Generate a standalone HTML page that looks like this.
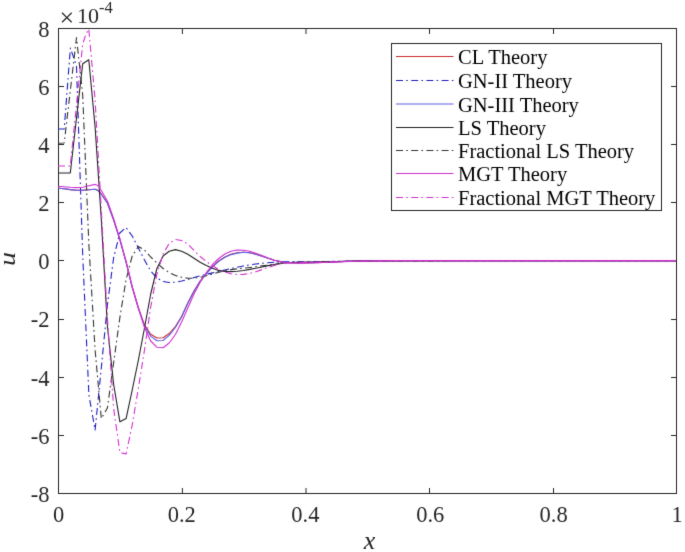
<!DOCTYPE html>
<html><head><meta charset="utf-8"><style>
html,body{margin:0;padding:0;background:#fff;}
svg{display:block;font-family:"Liberation Serif",serif;}
</style></head><body>
<svg width="685" height="552" viewBox="0 0 685 552">
<defs><filter id="bl" x="-0.02" y="-0.02" width="1.04" height="1.04" color-interpolation-filters="sRGB"><feConvolveMatrix order="3" kernelMatrix="1 8 1 8 64 8 1 8 1" divisor="100" edgeMode="duplicate" preserveAlpha="true"/></filter></defs>
<g filter="url(#bl)">
<rect x="-10" y="-10" width="705" height="572" fill="#fff"/>
<defs><clipPath id="c"><rect x="58" y="28" width="619" height="466"/></clipPath></defs>
<rect x="58.5" y="28.5" width="618" height="465" fill="none" stroke="#262626" stroke-width="1"/>
<path d="M58.5,493v-5M58.5,29v5M182.4,493v-5M182.4,29v5M306.0,493v-5M306.0,29v5M429.5,493v-5M429.5,29v5M553.5,493v-5M553.5,29v5M676.5,493v-5M676.5,29v5M59,28.5h5M676,28.5h-5M59,86.5h5M676,86.5h-5M59,144.5h5M676,144.5h-5M59,202.5h5M676,202.5h-5M59,260.5h5M676,260.5h-5M59,319.5h5M676,319.5h-5M59,377.5h5M676,377.5h-5M59,435.5h5M676,435.5h-5M59,493.5h5M676,493.5h-5" stroke="#262626" stroke-width="1" fill="none"/>
<g clip-path="url(#c)" fill="none" stroke-width="1.1" stroke-linejoin="round">
<polyline points="58.0,188.2 64.2,188.8 70.4,189.6 76.5,190.3 82.7,190.3 88.9,189.7 95.1,189.2 98.0,190.5 101.3,194.0 107.4,203.0 113.6,219.8 119.8,239.4 126.0,261.7 132.2,287.0 138.4,308.0 144.5,325.0 150.7,334.2 156.9,338.0 163.1,337.8 169.2,333.5 175.4,326.5 181.6,316.5 187.8,303.0 194.0,291.0 200.1,281.0 206.3,273.5 212.5,266.5 218.7,261.0 224.9,257.0 231.0,254.3 237.2,252.8 243.4,252.3 249.6,252.8 255.8,254.3 262.0,256.2 268.1,258.3 274.3,260.2 280.5,261.6 286.7,262.4 292.9,262.8 299.0,262.9 311.0,262.8 323.0,262.4 335.0,261.9 350.0,261.3 370.0,260.8 400.0,260.6 676.0,260.6" stroke="#cc2a2a"/>
<polyline points="58.0,129.0 64.2,129.0 70.4,48.0 76.5,66.0 82.7,255.0 88.9,395.0 95.1,430.0 101.3,368.0 107.4,305.0 113.6,258.0 119.8,233.0 126.0,227.5 132.2,236.0 138.4,248.0 144.5,260.0 150.7,271.0 156.9,278.0 163.1,281.5 169.2,282.5 175.4,282.2 181.6,281.0 187.8,279.5 194.0,277.5 200.1,275.8 206.3,274.4 212.5,272.9 218.7,271.5 224.9,270.0 231.0,268.5 237.2,267.2 243.4,266.0 249.6,264.9 255.8,264.0 262.0,263.3 268.1,262.7 274.3,262.3 280.5,262.0 286.7,261.9 292.9,261.9 299.0,261.9 311.0,261.8 330.0,261.5 350.0,261.1 370.0,260.8 676.0,260.6" stroke="#1c1cc0" stroke-dasharray="7 3.2 1.6 3.4"/>
<polyline points="58.0,188.2 64.2,188.8 70.4,189.6 76.5,190.3 82.7,190.3 88.9,189.7 95.1,189.2 98.0,190.5 101.3,194.3 107.4,203.3 113.6,220.1 119.8,239.7 126.0,262.0 132.2,287.3 138.4,308.5 144.5,326.0 150.7,336.1 156.9,340.7 163.1,340.5 169.2,335.4 175.4,327.5 181.6,317.0 187.8,303.3 194.0,291.3 200.1,281.3 206.3,273.8 212.5,266.8 218.7,261.3 224.9,257.3 231.0,254.6 237.2,253.1 243.4,252.3 249.6,252.8 255.8,254.3 262.0,256.2 268.1,258.3 274.3,260.2 280.5,261.6 286.7,262.4 292.9,262.8 299.0,262.9 311.0,262.8 323.0,262.4 335.0,261.9 350.0,261.3 370.0,260.8 400.0,260.6 676.0,260.6" stroke="#5c5ce8"/>
<polyline points="58.0,173.0 64.2,173.0 70.3,173.0 76.5,118.0 82.7,63.8 88.8,59.8 95.1,127.0 101.3,219.0 107.4,326.0 113.6,384.0 119.9,421.8 126.1,418.6 132.2,390.0 138.4,360.0 144.5,328.0 150.7,294.0 156.9,268.5 163.1,256.0 169.2,251.2 175.4,249.6 181.6,251.2 187.8,254.2 194.0,258.3 200.1,262.3 206.3,265.6 212.5,268.2 218.7,270.4 224.9,271.4 231.0,271.6 237.2,271.2 243.4,270.5 249.6,269.4 255.8,268.2 262.0,267.0 268.1,265.6 274.3,264.5 280.5,263.4 286.7,262.6 292.9,262.5 299.0,262.4 311.0,262.2 330.0,261.8 350.0,261.3 370.0,260.9 400.0,260.7 676.0,260.6" stroke="#222222"/>
<polyline points="58.0,143.3 64.2,143.0 70.4,90.0 76.5,37.6 82.7,95.0 88.9,245.0 95.1,350.0 101.3,418.5 107.4,408.0 113.6,363.0 119.8,318.0 126.0,280.0 132.2,256.0 138.4,246.5 144.5,250.0 150.7,257.0 156.9,263.0 163.1,268.5 169.2,272.5 175.4,275.5 181.6,277.3 187.8,278.2 194.0,278.2 200.1,277.4 206.3,275.8 212.5,274.0 218.7,272.3 224.9,270.8 231.0,269.6 237.2,268.8 243.4,268.2 249.6,267.5 255.8,266.7 262.0,265.9 268.1,265.1 274.3,264.3 280.5,263.5 286.7,262.8 292.9,262.4 299.0,262.2 311.0,262.0 330.0,261.6 350.0,261.2 370.0,260.9 676.0,260.6" stroke="#333333" stroke-dasharray="7 3.2 1.6 3.4"/>
<polyline points="58.0,186.4 64.2,186.8 70.4,187.3 76.5,187.6 82.7,187.3 88.9,185.8 95.1,184.4 98.0,185.5 101.3,190.5 107.4,201.0 113.6,218.5 119.8,238.5 126.0,261.0 132.2,286.5 138.4,308.0 144.5,327.5 150.7,341.0 156.9,347.2 163.1,347.8 169.2,343.0 175.4,334.5 181.6,322.0 187.8,308.0 194.0,294.0 200.1,282.5 206.3,272.5 212.5,264.5 218.7,258.5 224.9,254.0 231.0,251.2 237.2,250.0 243.4,250.2 249.6,251.3 255.8,253.3 262.0,255.6 268.1,258.0 274.3,260.2 280.5,261.8 286.7,262.7 292.9,263.1 299.0,263.1 311.0,262.9 323.0,262.5 335.0,262.0 350.0,261.4 370.0,260.9 400.0,260.6 676.0,260.6" stroke="#d030d0"/>
<polyline points="58.0,166.0 64.2,166.0 70.3,166.0 76.5,105.0 82.7,44.0 85.8,34.5 88.8,29.0 95.1,100.0 101.3,210.0 107.4,318.0 113.6,408.0 119.9,452.5 126.1,454.0 132.2,425.0 138.4,388.0 144.5,350.0 150.7,307.0 156.9,274.0 163.1,254.0 169.2,243.5 175.4,239.5 181.6,240.5 187.8,244.0 194.0,250.5 200.1,256.5 206.3,261.5 212.5,265.8 218.7,269.5 224.9,272.2 231.0,273.8 237.2,274.5 243.4,274.4 249.6,273.4 255.8,271.7 262.0,269.6 268.1,267.4 274.3,265.4 280.5,263.8 286.7,262.9 292.9,262.6 299.0,262.5 311.0,262.3 330.0,261.9 350.0,261.4 370.0,261.0 400.0,260.7 676.0,260.6" stroke="#d030d0" stroke-dasharray="7 3.2 1.6 3.4"/>
</g>
<g font-family="Liberation Serif" font-size="22.5" fill="#262626">
<text x="49.5" y="36.8" text-anchor="end">8</text>
<text x="49.5" y="94.9" text-anchor="end">6</text>
<text x="49.5" y="153.1" text-anchor="end">4</text>
<text x="49.5" y="211.2" text-anchor="end">2</text>
<text x="49.5" y="269.3" text-anchor="end">0</text>
<text x="49.5" y="327.4" text-anchor="end">-2</text>
<text x="49.5" y="385.6" text-anchor="end">-4</text>
<text x="49.5" y="443.7" text-anchor="end">-6</text>
<text x="49.5" y="501.8" text-anchor="end">-8</text>
<text x="58.5" y="522.3" text-anchor="middle">0</text>
<text x="181.8" y="522.3" text-anchor="middle">0.2</text>
<text x="305.4" y="522.3" text-anchor="middle">0.4</text>
<text x="430.2" y="522.3" text-anchor="middle">0.6</text>
<text x="553.6" y="522.3" text-anchor="middle">0.8</text>
<text x="677.0" y="522.3" text-anchor="middle">1</text>
</g>
<g font-family="Liberation Serif" fill="#262626"><text x="59.5" y="26.2" font-size="26">&#215;</text><text x="77" y="23" font-size="22">10</text><text x="99" y="13.3" font-size="16.5">-4</text></g>
<text x="369.5" y="548.5" font-family="Liberation Serif" font-style="italic" font-size="26" fill="#262626" text-anchor="middle">x</text>
<text transform="translate(15,259) rotate(-90) scale(1.12,0.92)" font-family="Liberation Serif" font-style="italic" font-size="25" fill="#262626" text-anchor="middle">u</text>
<rect x="391.5" y="43.5" width="270" height="167" fill="#fff" stroke="#262626" stroke-width="1"/>
<line x1="396" y1="56.5" x2="453.5" y2="56.5" stroke="#cc2a2a" stroke-width="1.1"/>
<text x="458" y="64.3" font-family="Liberation Serif" font-size="20.5" fill="#000">CL Theory</text>
<line x1="396" y1="80.5" x2="453.5" y2="80.5" stroke="#1c1cc0" stroke-width="1.1" stroke-dasharray="7 3.2 1.6 3.4"/>
<text x="458" y="88.0" font-family="Liberation Serif" font-size="20.5" fill="#000">GN-II Theory</text>
<line x1="396" y1="104" x2="453.5" y2="104" stroke="#5c5ce8" stroke-width="1.1"/>
<text x="458" y="111.6" font-family="Liberation Serif" font-size="20.5" fill="#000">GN-III Theory</text>
<line x1="396" y1="127.5" x2="453.5" y2="127.5" stroke="#222222" stroke-width="1.1"/>
<text x="458" y="135.0" font-family="Liberation Serif" font-size="20.5" fill="#000">LS Theory</text>
<line x1="396" y1="150.5" x2="453.5" y2="150.5" stroke="#333333" stroke-width="1.1" stroke-dasharray="7 3.2 1.6 3.4"/>
<text x="458" y="158.3" font-family="Liberation Serif" font-size="20.5" fill="#000">Fractional LS Theory</text>
<line x1="396" y1="173.5" x2="453.5" y2="173.5" stroke="#d030d0" stroke-width="1.1"/>
<text x="458" y="181.4" font-family="Liberation Serif" font-size="20.5" fill="#000">MGT Theory</text>
<line x1="396" y1="197.5" x2="453.5" y2="197.5" stroke="#d030d0" stroke-width="1.1" stroke-dasharray="7 3.2 1.6 3.4"/>
<text x="458" y="204.8" font-family="Liberation Serif" font-size="20.5" fill="#000">Fractional MGT Theory</text>
</g>
</svg>
</body></html>
